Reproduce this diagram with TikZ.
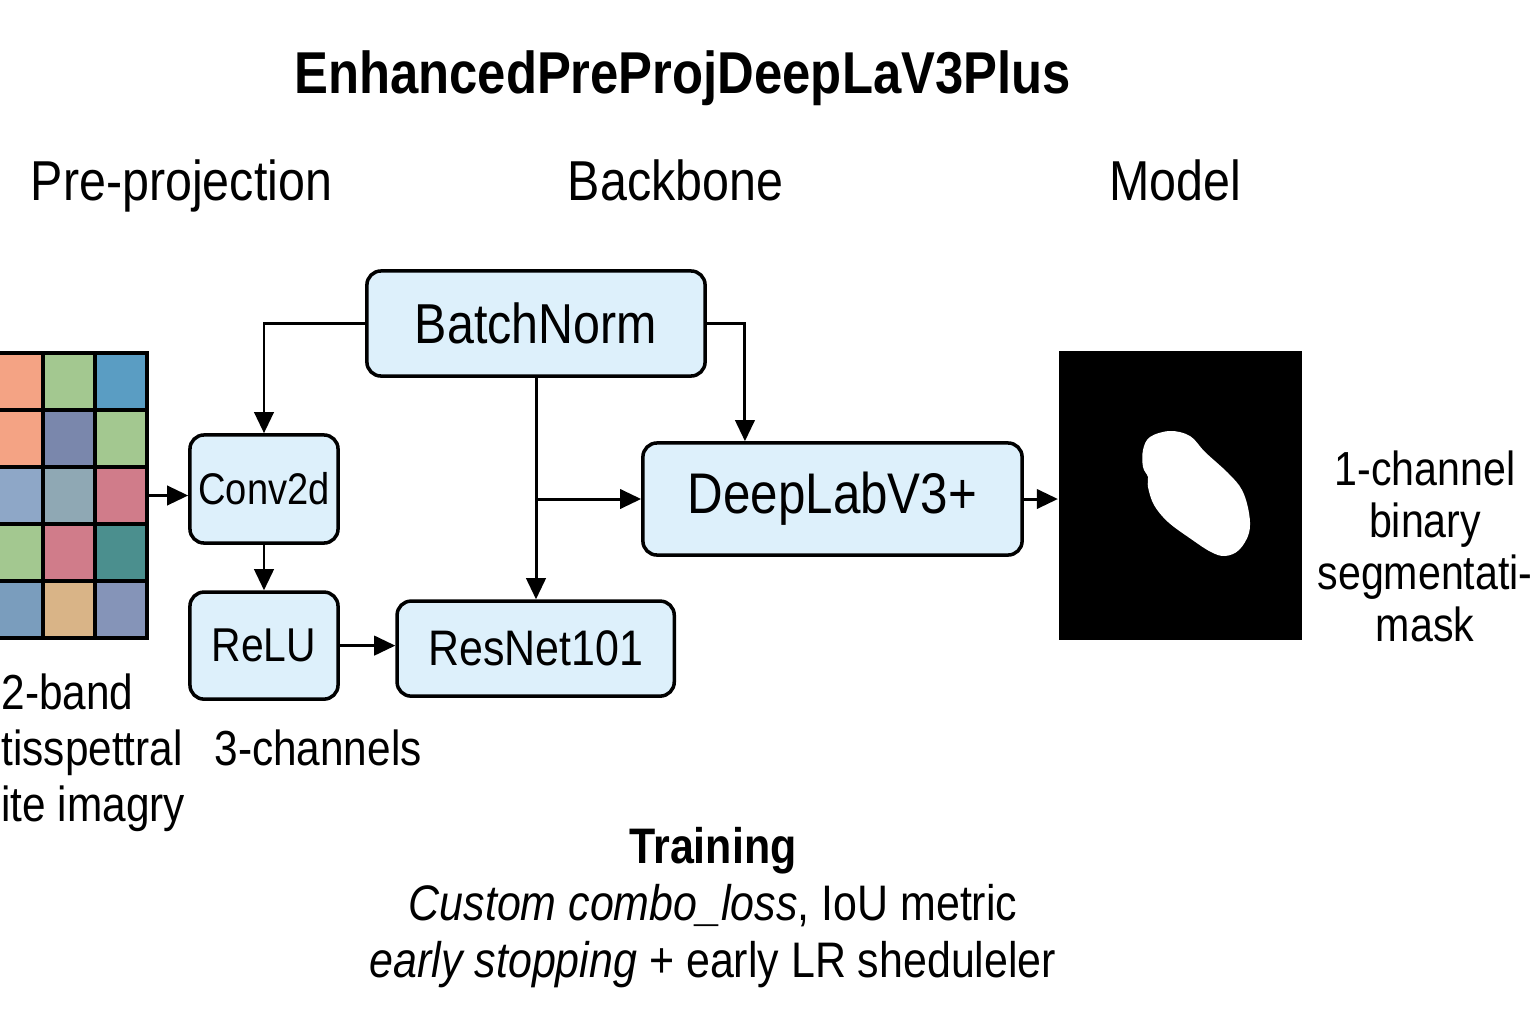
\documentclass[tikz,border=0pt]{standalone}
\usepackage{fontspec}
\setmainfont{Liberation Sans}[FakeStretch=0.86]
\usetikzlibrary{arrows.meta, positioning}
\definecolor{boxblue}{HTML}{DDF0FB}
\definecolor{gOrange}{HTML}{F4A384}
\definecolor{gGreen}{HTML}{A3C890}
\definecolor{gBlue}{HTML}{5A9DC3}
\definecolor{gSlate}{HTML}{7A87AC}
\definecolor{gGrey}{HTML}{8EA7C7}
\definecolor{gTealgrey}{HTML}{8FA8B4}
\definecolor{gPink}{HTML}{D07C8A}
\definecolor{gTeal}{HTML}{4B8F8E}
\definecolor{gSteel}{HTML}{7A9DBD}
\definecolor{gTan}{HTML}{D9B487}
\definecolor{gLilac}{HTML}{8594B8}

\begin{document}
\begin{tikzpicture}[x=0.01cm, y=-0.01cm, line width=0.85pt,
    >={Triangle[length=6pt,width=5.5pt]},
    blk/.style={draw, rounded corners=4pt, fill=boxblue, line width=1pt, inner sep=0pt},
    lbl/.style={font=\fontsize{14}{15.9}\selectfont, inner sep=0pt},
    head/.style={font=\fontsize{16}{18}\selectfont, inner sep=0pt, anchor=base}]
    \useasboundingbox (0,0) rectangle (1536,1024);

    % titles
    \node[font=\bfseries\fontsize{16.8}{19}\selectfont, inner sep=0pt, anchor=base] (title) at (682.5,93) {EnhancedPreProjDeepLaV3Plus};
    \node[head] (hpre) at (181.5,200) {Pre-projection};
    \node[head] (hback) at (675.5,200) {Backbone};
    \node[head] (hmodel) at (1175.5,200) {Model};

    % input bands
    \foreach \r/\c/\col in {0/0/gOrange, 0/1/gGreen, 0/2/gBlue,
                            1/0/gOrange, 1/1/gSlate, 1/2/gGreen,
                            2/0/gGrey, 2/1/gTealgrey, 2/2/gPink,
                            3/0/gGreen, 3/1/gPink, 3/2/gTeal,
                            4/0/gSteel, 4/1/gTan, 4/2/gLilac}
        \fill[\col] (-9+52*\c,353+57*\r) rectangle ++(52,57);
    \foreach \c in {1,2} \draw[line width=1.1pt] (-9+52*\c,353) -- ++(0,285);
    \foreach \r in {1,...,4} \draw[line width=1.1pt] (-9,353+57*\r) -- ++(156,0);
    \node[draw, line width=1.1pt, minimum width=1.56cm, minimum height=2.85cm, inner sep=0pt] (grid) at (69,495.5) {};

    % blocks
    \node[blk, minimum width=3.38cm, minimum height=1.05cm, font=\fontsize{16}{19}\selectfont] (bn) at (536,323.5) {BatchNorm};
    \node[blk, minimum width=1.48cm, minimum height=1.08cm, font=\fontsize{12.6}{15}\selectfont] (conv) at (264,489) {Conv2d};
    \node[blk, minimum width=1.48cm, minimum height=1.07cm, font=\fontsize{13.5}{16}\selectfont, below=0.455cm of conv] (relu) {ReLU};
    \node[blk, minimum width=2.77cm, minimum height=0.95cm, font=\fontsize{14.2}{17}\selectfont, right=0.555cm of relu, yshift=-0.03cm] (resnet) {ResNet101};
    \node[blk, minimum width=3.79cm, minimum height=1.12cm, font=\fontsize{16.3}{19}\selectfont] (dlab) at (832.5,499) {DeepLabV3+};
    \node[fill=black, minimum width=2.42cm, minimum height=2.89cm, inner sep=0pt, right=0.34cm of dlab, yshift=0.035cm] (mask) {};
    \fill[white] plot[smooth cycle, tension=0.6] coordinates {(1143,450) (1150,437) (1170,431) (1190,436) (1205,452) (1228,473) (1242,490) (1249,513) (1249,533) (1239,550) (1225,556) (1211,552) (1191,539) (1168,522) (1154,505) (1148,487) (1148,477) (1143,467)};

    % connectors
    \draw[->] (grid.east) -- (grid.east -| conv.west);
    \draw[->] (bn.west) -| (conv.north);
    \draw[->] (bn.east) -| ([xshift=-0.875cm]dlab.north);
    \draw[->] (bn.south) -- (bn.south |- resnet.north);
    \draw[->] (bn.south |- dlab.west) -- (dlab.west);
    \draw[->] (conv) -- (relu);
    \draw[->] (relu.east) -- (relu.east -| resnet.west);
    \draw[->] (dlab.east) -- (dlab.east -| mask.west);

    % labels
    \node[lbl, align=left, anchor=north west] (inlbl) at (0,672) {2-band\\tisspettral\\ite imagry};
    \node[lbl, anchor=base west] (chlbl) at (213,765) {3-channels};
    \node[lbl, align=center, anchor=north, font=\fontsize{13.6}{14.8}\selectfont] (outlbl) at (1425,449) {1-channel\\binary\\segmentati-\\mask};
    \node[lbl, align=center, anchor=north, font=\fontsize{14.2}{16.2}\selectfont] (train) at (713,826) {\textbf{Training}\\\textit{Custom combo\_loss}, IoU metric\\\textit{early stopping} + early LR sheduleler};
\end{tikzpicture}
\end{document}
